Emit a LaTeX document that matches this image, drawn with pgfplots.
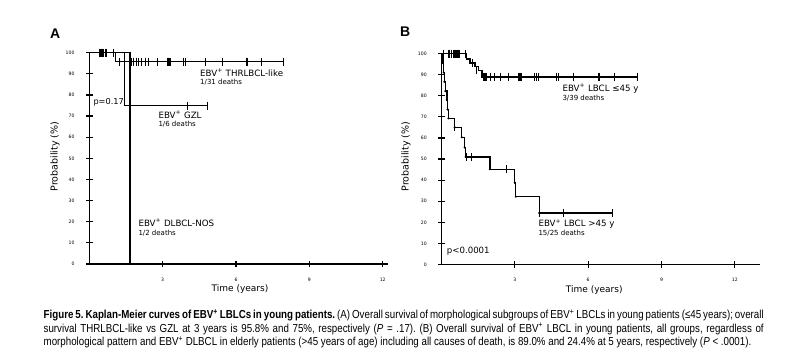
\documentclass[border=0pt]{standalone}
\usepackage{fontspec}
\setmainfont{DejaVu Sans}
\newfontfamily\capfont[FakeStretch=0.84]{Liberation Sans}
\newfontfamily\arialfont{Liberation Sans}
\usepackage{pgfplots}
\pgfplotsset{compat=1.18}
\pgfplotsset{kmaxis/.style={
  scale only axis, axis lines=left, axis line style={-, line width=1.4pt},
  ymin=0, ymax=100, xmin=0,
  ytick={0,10,...,100}, xtick={3,6,9,12},
  tick align=center, major tick length=6.5pt,
  tick style={black, line width=1.2pt},
  /pgf/number format/assume math mode=true,
  ticklabel style={font=\fontsize{4.6}{5}\selectfont},
  yticklabel style={xshift=-8pt},
  xticklabel style={yshift=-7pt},
  clip=false,
}}
\tikzset{
  km/.style={const plot, black, line width=1.3pt, mark=none},
  cens/.style={only marks, mark=|, mark size=4pt, mark options={black, line width=1pt}},
}
\begin{document}
\begin{tikzpicture}
\path[use as bounding box] (0pt,0pt) rectangle (799pt,357pt);
% ---------------- Panel A ----------------
\begin{axis}[kmaxis, at={(89.3pt,93pt)}, anchor=south west,
  width=299pt, height=211.3pt, xmax=12.23]
\addplot[km] coordinates {(0,100) (1.06,95.8) (7.96,95.8)};
\addplot[km] coordinates {(0,100) (1.43,75) (4.85,75)};
\addplot[km] coordinates {(0,100) (1.67,0)};
\addplot[cens] coordinates {(0.40,100) (0.45,100) (0.49,100) (0.55,100) (0.60,100) (0.66,100) (0.71,100) (1.00,100)};
\addplot[cens] coordinates {(1.25,95.8) (1.71,95.8) (1.81,95.8) (1.92,95.8) (2.02,95.8) (2.15,95.8) (2.29,95.8) (2.42,95.8) (2.79,95.8) (3.19,95.8) (3.23,95.8) (3.27,95.8) (3.31,95.8) (3.84,95.8) (3.95,95.8) (4.76,95.8) (5.43,95.8) (6.43,95.8) (6.46,95.8) (7.05,95.8) (7.96,95.8)};
\addplot[cens] coordinates {(4.0,75) (4.85,75)};
\end{axis}
% ---------------- Panel B ----------------
\begin{axis}[kmaxis, at={(441.5pt,92.4pt)}, anchor=south west,
  width=318.5pt, height=211.1pt, xmax=13.03]
\addplot[km] coordinates {(0,100) (1.03,97.4) (1.17,95.5) (1.37,93.7) (1.50,92.0) (1.66,88.9) (8.0,88.9)};
\addplot[km] coordinates {(0,100) (0.06,95.5) (0.09,91) (0.12,86.6) (0.16,82.2) (0.22,78) (0.25,73.5) (0.29,69.3) (0.54,65) (0.83,60.3) (0.95,55.5) (0.99,51) (1.98,45.2) (3.0,38.8) (3.04,32.2) (4.0,24.4) (7.0,24.4)};
\addplot[only marks, mark=*, mark size=0.9pt, black] coordinates {(0.06,95.5) (0.09,91) (0.12,86.6) (0.16,82.2) (0.22,78) (0.25,73.5) (0.29,69.3) (0.54,65) (0.83,60.3) (0.95,55.5) (0.99,51) (1.98,45.2) (3.0,38.8) (3.04,32.2) (4.0,24.4)};
\addplot[cens] coordinates {(0.09,100) (0.27,100) (0.34,100) (0.41,100) (0.50,100) (0.54,100) (0.58,100) (0.62,100) (0.66,100) (0.70,100) (0.74,100) (0.98,100) (1.25,95.5) (1.45,92.0)};
\addplot[cens] coordinates {(1.70,88.9) (1.74,88.9) (1.78,88.9) (1.82,88.9) (1.86,88.9) (2.0,88.9) (2.17,88.9) (2.41,88.9) (2.75,88.9) (3.17,88.9) (3.21,88.9) (3.25,88.9) (3.29,88.9) (3.82,88.9) (3.88,88.9) (3.95,88.9) (4.72,88.9) (4.80,88.9) (5.41,88.9) (6.41,88.9) (6.47,88.9) (7.07,88.9) (8.0,88.9)};
\addplot[cens] coordinates {(0.55,65) (1.02,51) (1.23,51) (2.67,45.2) (4.0,24.4) (5.0,24.4) (7.0,24.4)};
\end{axis}
% ---------------- Texts ----------------
\node[anchor=west, inner sep=0, font=\arialfont\bfseries\fontsize{14}{14}\selectfont] at (50pt,323.7pt) {A};
\node[anchor=west, inner sep=0, font=\arialfont\bfseries\fontsize{14}{14}\selectfont] at (400pt,325.3pt) {B};
\node[rotate=90, inner sep=0, font=\fontsize{9.5}{10}\selectfont] at (55pt,200.3pt) {Probability (\%)};
\node[rotate=90, inner sep=0, font=\fontsize{9.5}{10}\selectfont] at (406pt,200.3pt) {Probability (\%)};
\node[inner sep=0, font=\fontsize{9}{10}\selectfont] at (240pt,67.7pt) {Time (years)};
\node[inner sep=0, font=\fontsize{9}{10}\selectfont] at (594.3pt,67pt) {Time (years)};
\node[anchor=west, inner sep=0, font=\fontsize{8.7}{10}\selectfont] at (200pt,284.7pt) {EBV\textsuperscript{+} THRLBCL-like};
\node[anchor=west, inner sep=0, font=\fontsize{7}{8}\selectfont] at (200pt,275.3pt) {1/31 deaths};
\node[anchor=west, inner sep=0, font=\fontsize{8.2}{10}\selectfont] at (93.3pt,254.3pt) {p=0.17};
\node[anchor=west, inner sep=0, font=\fontsize{8.7}{10}\selectfont] at (158.3pt,242pt) {EBV\textsuperscript{+} GZL};
\node[anchor=west, inner sep=0, font=\fontsize{7}{8}\selectfont] at (158.3pt,232.7pt) {1/6 deaths};
\node[anchor=west, inner sep=0, font=\fontsize{8.7}{10}\selectfont] at (138.3pt,134.7pt) {EBV\textsuperscript{+} DLBCL-NOS};
\node[anchor=west, inner sep=0, font=\fontsize{7}{8}\selectfont] at (138.3pt,124.3pt) {1/2 deaths};
\node[anchor=west, inner sep=0, font=\fontsize{8.7}{10}\selectfont] at (562.3pt,268.7pt) {EBV\textsuperscript{+} LBCL ≤45 y};
\node[anchor=west, inner sep=0, font=\fontsize{7}{8}\selectfont] at (562.3pt,259.3pt) {3/39 deaths};
\node[anchor=west, inner sep=0, font=\fontsize{8.7}{10}\selectfont] at (538.3pt,133pt) {EBV\textsuperscript{+} LBCL >45 y};
\node[anchor=west, inner sep=0, font=\fontsize{7}{8}\selectfont] at (538.3pt,123.7pt) {15/25 deaths};
\node[anchor=west, inner sep=0, font=\fontsize{8.6}{10}\selectfont] at (446.7pt,106.3pt) {p<0.0001};
% ---------------- Caption ----------------
\node[anchor=north west, inner sep=0] at (43.5pt,47.5pt) {\parbox{720pt}{\capfont\fontsize{11.6}{13.5}\selectfont\frenchspacing
\textbf{Figure 5. Kaplan-Meier curves of EBV\textsuperscript{+} LBLCs in young patients.} (A) Overall survival of morphological subgroups of EBV\textsuperscript{+} LBCLs in young patients (≤45 years); overall\linebreak
survival THRLBCL-like vs GZL at 3 years is 95.8\% and 75\%, respectively (\textit{P} = .17). (B) Overall survival of EBV\textsuperscript{+} LBCL in young patients, all groups, regardless of\linebreak
morphological pattern and EBV\textsuperscript{+} DLBCL in elderly patients (>45 years of age) including all causes of death, is 89.0\% and 24.4\% at 5 years, respectively (\textit{P} < .0001).}};
\end{tikzpicture}
\end{document}
